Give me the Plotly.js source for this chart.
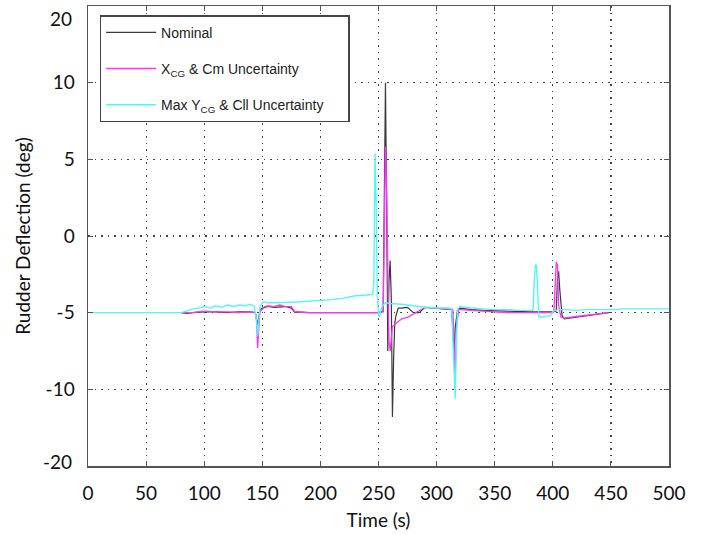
<!DOCTYPE html>
<html>
<head>
<meta charset="utf-8">
<script src="https://cdn.plot.ly/plotly-3.0.1.min.js"></script>
<style>html,body{margin:0;padding:0;background:#fff;}#chart{width:707px;height:535px;}</style>
</head>
<body>
<div id="chart"></div>
<script>
const nominalT = [80,85,90,100,110,120,130,140,144,146,147,148,150,155,160,170,175,178,180,190,200,220,240,250,254,255,256,257,258,259,260,261,262,263,264,265,267,270,275,280,285,290,300,310,313,315,316,318,320,330,340,360,380,400,403,404,405,406,408,410,420,430,440,448];
const nominalY = [-5,-5.05,-5,-4.95,-4.95,-5,-4.95,-4.95,-5,-5.8,-5.3,-4.8,-4.7,-4.6,-4.65,-4.6,-4.7,-5,-4.95,-5,-5,-5,-5,-5,-4.9,4,10,2,-7.5,-3,-1.6,-4,-11.8,-8,-5.7,-5.2,-4.7,-4.7,-4.65,-5,-5,-4.65,-4.7,-4.75,-4.8,-7.5,-6,-4.8,-4.7,-4.8,-4.85,-4.9,-4.95,-4.95,-4.9,-2.8,-2.3,-3.5,-5.2,-5.4,-5.3,-5.2,-5.1,-5];

const xcgT = [80,90,100,110,120,130,140,144,145,146,147,148,150,152,155,160,165,170,175,178,180,190,200,220,240,250,254,255,256,257,258,259,260,262,265,270,275,280,285,290,300,310,314,315,316,317,319,320,330,340,360,380,400,401,402,403,404,405,407,410,420,430,440,448];
const xcgY = [-5,-5,-4.9,-4.95,-4.95,-5,-4.95,-5,-5.5,-7.3,-6,-4.9,-4.8,-4.6,-4.55,-4.6,-4.5,-4.6,-4.6,-4.95,-4.95,-5,-5,-5,-5,-5,-4.95,0,5.8,3,-3,-6.8,-7.5,-5.9,-5.7,-5.4,-5.3,-5.1,-4.9,-4.65,-4.7,-4.75,-4.8,-7,-9.3,-6,-4.8,-4.8,-4.85,-4.9,-5,-5,-5,-4.9,-3,-1.7,-1.9,-4.5,-5.3,-5.35,-5.25,-5.15,-5.05,-5];

const ycgT = [0,20,40,60,80,85,90,95,100,105,110,115,120,125,130,135,140,143,145,146,147,148,150,152,155,160,180,200,210,220,230,240,245,246,247,248,249,250,251,252,254,256,260,270,280,290,300,310,313,315,316,317,318,320,330,340,350,360,370,380,383,384,385,386,387,388,390,395,398,400,405,410,420,430,440,450,460,470,480,490,500];
const ycgY = [-5,-5,-5,-5,-5,-4.9,-4.75,-4.7,-4.6,-4.7,-4.55,-4.65,-4.5,-4.6,-4.5,-4.55,-4.45,-4.6,-5.5,-6.5,-5.5,-4.6,-4.35,-4.3,-4.35,-4.35,-4.3,-4.2,-4.15,-4.05,-3.9,-3.85,-3.8,-3,5.4,2,-3.8,-5.2,-5.25,-4.8,-4.5,-4.35,-4.4,-4.45,-4.55,-4.65,-4.7,-4.7,-4.75,-8,-10.6,-7,-4.8,-4.6,-4.7,-4.75,-4.8,-4.8,-4.85,-4.85,-4.85,-3,-1.9,-1.9,-4,-5.25,-5.3,-5.25,-5.2,-4.9,-4.8,-4.8,-4.85,-4.8,-4.8,-4.8,-4.75,-4.75,-4.75,-4.75,-4.75];

const seriesNames = ['Nominal', 'X<sub>CG</sub> & Cm Uncertainty', 'Max Y<sub>CG</sub> & Cll Uncertainty\u00a0\u00a0\u00a0\u00a0\u00a0'];
const xTicks = [0,50,100,150,200,250,300,350,400,450,500];
const yTicks = [-10,-5,0,5,10];
const yTickText = ['-10','-5','0','5','10'];
const yEndLabels = ['20','-20'];

const traces = [
  {x: nominalT, y: nominalY, name: seriesNames[0], legendgroup:'a', mode:'lines', line:{color:'#3a3a3a', width:1.2}},
  {x: xcgT, y: xcgY, name: seriesNames[1], legendgroup:'b', mode:'lines', line:{color:'#ff33ff', width:1.3}},
  {x: ycgT, y: ycgY, name: seriesNames[2], legendgroup:'c', mode:'lines', line:{color:'#55f5f5', width:1.4}}
];

const tickFont = {family:'Lato, "Open Sans", sans-serif', size:19, color:'#111'};
const titleFont = {family:'Lato, "Open Sans", sans-serif', size:19, color:'#111'};
const layout = {
  width:707, height:535,
  margin:{l:88, r:38, t:6, b:69},
  paper_bgcolor:'#fff', plot_bgcolor:'#fff',
  showlegend:true,
  legend:{x:0.02, y:0.98, xanchor:'left', yanchor:'top', bgcolor:'#fff', bordercolor:'#444', borderwidth:1.5,
          tracegroupgap:15, itemwidth:50,
          font:{family:'"Liberation Sans", Arial, sans-serif', size:14, color:'#222'}},
  xaxis:{range:[0,500], tickvals:xTicks, ticks:'inside', ticklen:5, tickcolor:'#555', mirror:'ticks',
         showline:true, linecolor:'#555', linewidth:1.5, showgrid:true, gridcolor:'#444', griddash:'1.5px,5px', gridwidth:1.2,
         zeroline:false, tickfont:tickFont, ticklabelstandoff:10,
         title:{text:'Time (s)', font:titleFont, standoff:10}},
  yaxis:{range:[-15,15], tickvals:yTicks, ticktext:yTickText, ticks:'inside', ticklen:5, tickcolor:'#555', mirror:'ticks',
         showline:true, linecolor:'#555', linewidth:1.5, showgrid:true, gridcolor:'#444', griddash:'1.5px,5px', gridwidth:1.2,
         zeroline:false, tickfont:tickFont, ticklabelstandoff:8,
         title:{text:'Rudder Deflection (deg)', font:titleFont, standoff:10}},
  annotations:[
    {xref:'paper', yref:'y', x:0, y:14.2, xanchor:'right', yanchor:'middle', xshift:-14, text:yEndLabels[0], showarrow:false, font:tickFont},
    {xref:'paper', yref:'y', x:0, y:-14.7, xanchor:'right', yanchor:'middle', xshift:-14, text:yEndLabels[1], showarrow:false, font:tickFont}
  ]
};
Plotly.newPlot('chart', traces, layout, {displayModeBar:false, staticPlot:true});
</script>
</body>
</html>
